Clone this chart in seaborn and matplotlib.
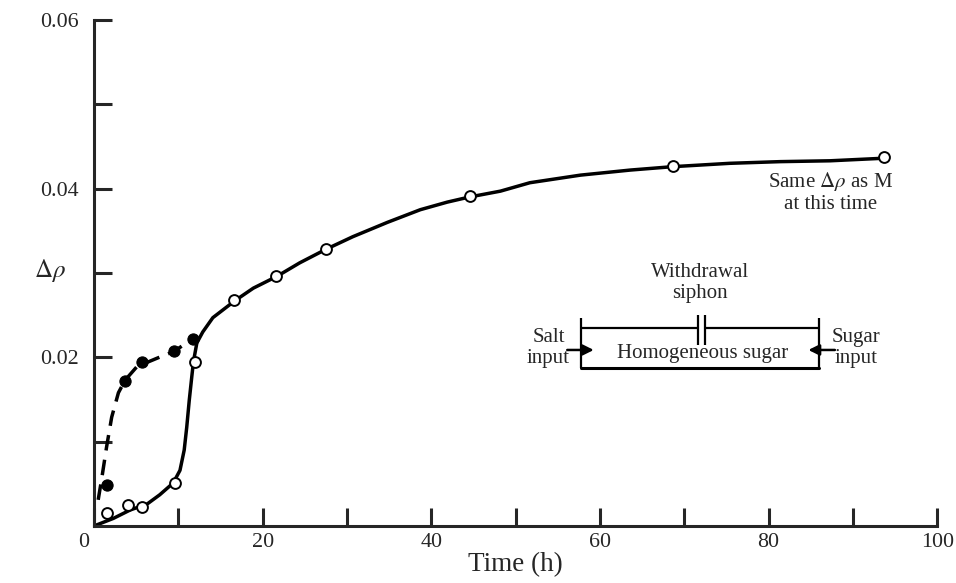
import numpy as np
import pandas as pd
import matplotlib
matplotlib.use("Agg")
import matplotlib.pyplot as plt
import matplotlib.transforms as mtransforms
import seaborn as sns

# --- data ---
open_t = [1.5, 4.0, 5.7, 9.6, 12.0, 16.6, 21.6, 27.5, 44.6, 68.7, 93.7]
open_rho = [0.0015, 0.0025, 0.0023, 0.0051, 0.0194, 0.0268, 0.0296, 0.0328, 0.0391, 0.0427, 0.0437]

filled_t = [1.5, 3.7, 5.7, 9.5, 11.7]
filled_rho = [0.0049, 0.0172, 0.0194, 0.0207, 0.0222]

# hand-drawn smooth curves
solid_t = [0.0, 2.3, 4.3, 6.3, 7.8, 9.4, 10.2, 10.7, 11.0, 11.3, 11.6, 11.8, 12.2, 12.9,
           14.1, 16.7, 18.9, 21.7, 24.4, 27.5, 30.7, 34.8, 38.7, 41.9, 44.5, 48.2, 51.7,
           57.7, 63.6, 68.6, 75.4, 81.4, 87.3, 93.6]
solid_rho = [0.0, 0.0009, 0.0019, 0.0026, 0.0037, 0.0051, 0.0066, 0.0090, 0.0117, 0.0149,
             0.0177, 0.0195, 0.0217, 0.0230, 0.0247, 0.0267, 0.0282, 0.0296, 0.0312, 0.0328,
             0.0343, 0.0360, 0.0375, 0.0384, 0.0390, 0.0397, 0.0407, 0.0416, 0.0422, 0.0426,
             0.0430, 0.0432, 0.0433, 0.0436]

dashed_t = [0.5, 0.9, 1.5, 2.1, 2.9, 3.7, 5.1, 7.5, 9.5, 11.7]
dashed_rho = [0.0031, 0.0055, 0.0094, 0.0129, 0.0158, 0.0173, 0.0189, 0.0199, 0.0207, 0.0222]

sns.set_style("ticks")
plt.rcParams['font.family'] = ['Liberation Serif', 'DejaVu Serif']
plt.rcParams['mathtext.fontset'] = 'stix'

fig = plt.figure(figsize=(9.56, 5.83), dpi=100)
ax = fig.add_axes([0.0983, 0.0978, 0.882, 0.868])

solid_df = pd.DataFrame({'t': solid_t, 'rho': solid_rho})
dashed_df = pd.DataFrame({'t': dashed_t, 'rho': dashed_rho})

sns.lineplot(data=solid_df, x='t', y='rho', sort=False, estimator=None,
             color='black', lw=2.5, ax=ax, solid_joinstyle='round')
sns.lineplot(data=dashed_df, x='t', y='rho', sort=False, estimator=None,
             color='black', lw=2.5, ax=ax, linestyle=(0, (4.5, 2.7)))

ax.plot(open_t, open_rho, 'o', ms=7.8, mfc='white', mec='black', mew=1.4, zorder=5)
sns.scatterplot(x=filled_t, y=filled_rho, s=65, color='black', edgecolor='black',
                linewidth=0.8, ax=ax, zorder=5)

# --- axes styling ---
ax.set_xlim(0, 100)
ax.set_ylim(0, 0.06)
ax.set_xticks([0, 20, 40, 60, 80, 100])
ax.set_xticks([10, 30, 50, 70, 90], minor=True)
ax.set_yticks([0.02, 0.04, 0.06])
ax.set_yticklabels(['0.02', '0.04', '0.06'])
ax.set_yticks([0.01, 0.03, 0.05], minor=True)
ax.tick_params(which='both', direction='in', length=13, width=2.2, labelsize=15.8)
ax.tick_params(axis='x', pad=5)
ax.tick_params(axis='y', pad=11)
for s in ['top', 'right']:
    ax.spines[s].set_visible(False)
for s in ['left', 'bottom']:
    ax.spines[s].set_linewidth(2.2)

# the "0" at the origin sits a little left of the corner
zero_lab = ax.get_xticklabels()[0]
zero_lab.set_transform(zero_lab.get_transform() +
                       mtransforms.ScaledTranslation(-10 / 100, 0, fig.dpi_scale_trans))

ax.set_xlabel('Time (h)', fontsize=19.5, labelpad=0)
ax.set_ylabel('')
ax.text(-5.2, 0.0303, r'$\Delta\rho$', fontsize=18, ha='center', va='center')

# --- inset tank diagram ---
k = dict(color='black', lw=1.6, solid_capstyle='butt')
ax.plot([57.8, 71.6], [0.02347, 0.02347], **k)
ax.plot([72.5, 86.0], [0.02347, 0.02347], **k)
ax.plot([57.8, 86.0], [0.01873, 0.01873], lw=2.2, color='black')
ax.plot([57.8, 57.8], [0.01873, 0.02466], **k)
ax.plot([86.0, 86.0], [0.01873, 0.02466], **k)
ax.plot([71.6, 71.6], [0.02146, 0.0250], **k)
ax.plot([72.5, 72.5], [0.02146, 0.0250], **k)
ax.annotate('', xy=(59.6, 0.02087), xytext=(55.8, 0.02087),
            arrowprops=dict(arrowstyle='-|>', color='black', lw=1.8, mutation_scale=16))
ax.annotate('', xy=(84.4, 0.02087), xytext=(88.2, 0.02087),
            arrowprops=dict(arrowstyle='-|>', color='black', lw=1.8, mutation_scale=16))

fs = 15
ax.text(72.2, 0.0205, 'Homogeneous sugar', fontsize=fs, ha='center', va='center')
ax.text(71.9, 0.0288, 'Withdrawal\nsiphon', fontsize=fs, ha='center', va='center', linespacing=1.2)
ax.text(53.9, 0.0211, 'Salt\ninput', fontsize=fs, ha='center', va='center', linespacing=1.1)
ax.text(90.4, 0.0211, 'Sugar\ninput', fontsize=fs, ha='center', va='center', linespacing=1.1)
ax.text(87.3, 0.0396, 'Same $\\Delta\\rho$ as M\nat this time', fontsize=fs,
        ha='center', va='center', linespacing=1.2)

fig.savefig('out.png', dpi=100)
